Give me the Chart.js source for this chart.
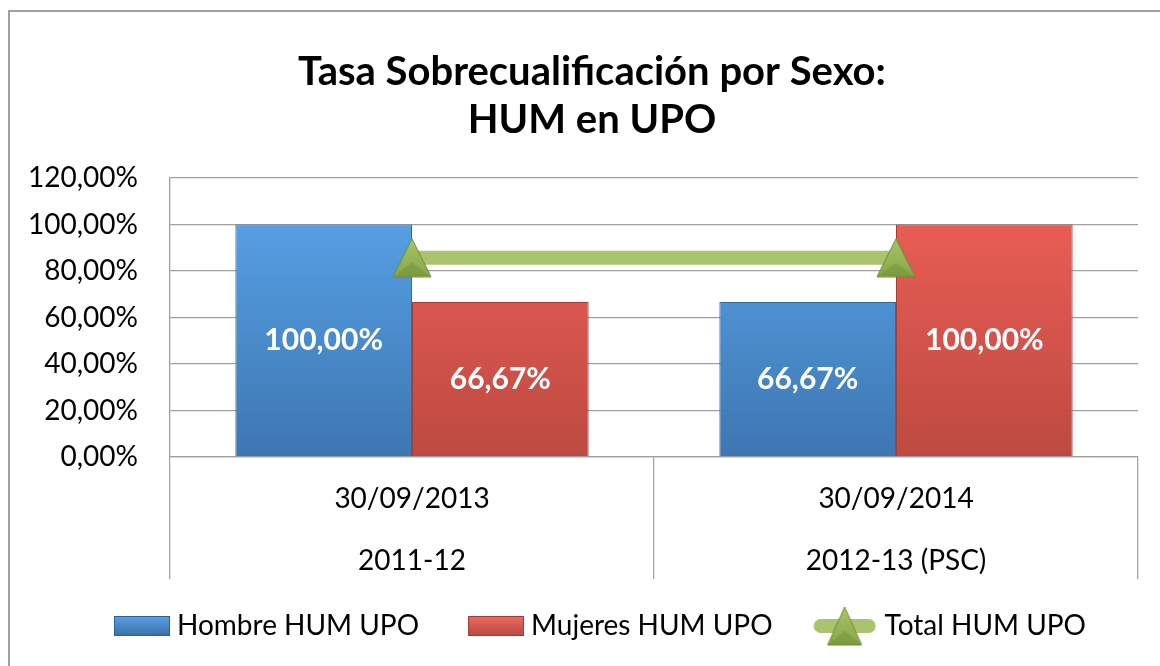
<!DOCTYPE html>
<html>
<head>
<meta charset="utf-8">
<script src="https://cdn.jsdelivr.net/npm/chart.js@4.4.1/dist/chart.umd.min.js"></script>
<style>
  html, body { margin: 0; padding: 0; background: #ffffff; }
  #wrap { position: relative; width: 1160px; height: 666px; }
</style>
</head>
<body>
<div id="wrap"><canvas id="c" width="1160" height="666"></canvas></div>
<script>
// ---- data ----
const dates = ['30/09/2013', '30/09/2014'];
const courses = ['2011-12', '2012-13 (PSC)'];
const hombre = [100, 66.67];
const mujeres = [66.67, 100];
const total = [85.71, 85.71];
const seriesNames = ['Hombre HUM UPO', 'Mujeres HUM UPO', 'Total HUM UPO'];
const titleLines = ['Tasa Sobrecualificación por Sexo:', 'HUM en UPO'];
const yMin = 0, yMax = 120, yStep = 20;

const labels = dates.map((d, i) => [d, courses[i]]);
const FONT = 'Lato, "Open Sans", sans-serif';
const fmt = v => v.toFixed(2).replace('.', ',') + '%';

// ---- marker / legend icons ----
function drawTriangle(g, x, y, w, h) {
  const grd = g.createLinearGradient(0, y, 0, y + h);
  grd.addColorStop(0, '#a9c66a');
  grd.addColorStop(1, '#86a646');
  g.beginPath();
  g.moveTo(x + w / 2, y + 1);
  g.lineTo(x + w - 1, y + h - 1);
  g.lineTo(x + 1, y + h - 1);
  g.closePath();
  g.fillStyle = grd;
  g.fill();
  g.strokeStyle = '#6f8f34';
  g.lineWidth = 1;
  g.stroke();
  g.beginPath();
  g.moveTo(x + w / 2, y + h * 0.62);
  g.lineTo(x + w - 1, y + h - 1);
  g.lineTo(x + 1, y + h - 1);
  g.closePath();
  g.fillStyle = 'rgba(90,120,40,0.25)';
  g.fill();
}
function triangleCanvas(w, h) {
  const c = document.createElement('canvas');
  c.width = w; c.height = h;
  drawTriangle(c.getContext('2d'), 0, 0, w, h);
  return c;
}
const ICON_W = 79, ICON_H = 42;
function rectIcon(top, bottom, border) {
  const c = document.createElement('canvas');
  c.width = ICON_W; c.height = ICON_H;
  const g = c.getContext('2d');
  const x0 = ICON_W - 56, y0 = (ICON_H - 20) / 2;
  const grd = g.createLinearGradient(0, y0, 0, y0 + 20);
  grd.addColorStop(0, top);
  grd.addColorStop(1, bottom);
  g.fillStyle = grd;
  g.fillRect(x0 + 0.5, y0 + 0.5, 55, 19);
  g.strokeStyle = border;
  g.lineWidth = 1;
  g.strokeRect(x0 + 0.5, y0 + 0.5, 55, 19);
  return c;
}
function lineIcon() {
  const c = document.createElement('canvas');
  c.width = ICON_W; c.height = ICON_H;
  const g = c.getContext('2d');
  const x0 = ICON_W - 64;
  g.fillStyle = '#a9c46c';
  g.beginPath();
  g.roundRect(x0, ICON_H / 2 - 7, 62, 14, 7);
  g.fill();
  drawTriangle(g, x0 + 31 - 18, 1, 36, 40);
  return c;
}
const markerImg = triangleCanvas(40, 40);
const legendIcons = {
  1: rectIcon('#5aa2e6', '#3a6fa8', '#2f5f93'),
  2: rectIcon('#ec6b62', '#b9483f', '#9e3b34'),
  0: lineIcon()
};

function vGrad(chart, top, bottom) {
  const a = chart.chartArea;
  if (!a) return top;
  const g = chart.ctx.createLinearGradient(0, a.top + 46, 0, a.bottom);
  g.addColorStop(0, top);
  g.addColorStop(1, bottom);
  return g;
}

// ---- plugins ----
const frame = {
  id: 'frame',
  beforeDraw(chart) {
    const ctx = chart.ctx;
    ctx.save();
    ctx.fillStyle = '#ffffff';
    ctx.fillRect(0, 0, chart.width, chart.height);
    ctx.strokeStyle = '#a0a0a0';
    ctx.lineWidth = 2;
    ctx.beginPath();
    ctx.moveTo(9, chart.height + 5);
    ctx.lineTo(9, 11);
    ctx.lineTo(chart.width + 5, 11);
    ctx.stroke();
    ctx.restore();
  }
};
const barLabels = {
  id: 'barLabels',
  afterDatasetsDraw(chart) {
    const ctx = chart.ctx;
    ctx.save();
    ctx.font = 'bold 30px ' + FONT;
    ctx.fillStyle = '#ffffff';
    ctx.textAlign = 'center';
    ctx.textBaseline = 'middle';
    [1, 2].forEach(di => {
      const meta = chart.getDatasetMeta(di);
      meta.data.forEach((el, i) => {
        const v = chart.data.datasets[di].data[i];
        ctx.fillText(fmt(v), el.x, (el.y + el.base) / 2);
      });
    });
    ctx.restore();
  }
};

const ctx = document.getElementById('c').getContext('2d');
new Chart(ctx, {
  data: {
    labels: labels,
    datasets: [
      {
        type: 'line',
        label: seriesNames[2],
        data: total,
        borderColor: '#a9c46c',
        borderWidth: 14,
        pointStyle: markerImg,
        pointRadius: 20,
        pointHoverRadius: 20,
        fill: false,
        order: 0
      },
      {
        type: 'bar',
        label: seriesNames[0],
        data: hombre,
        backgroundColor: c => vGrad(c.chart, '#559fe2', '#3e76b2'),
        borderColor: '#356a9f',
        borderWidth: 1,
        categoryPercentage: 0.73,
        barPercentage: 1.0,
        order: 1
      },
      {
        type: 'bar',
        label: seriesNames[1],
        data: mujeres,
        backgroundColor: c => vGrad(c.chart, '#e85d54', '#bd4a41'),
        borderColor: '#a13f37',
        borderWidth: 1,
        categoryPercentage: 0.73,
        barPercentage: 1.0,
        order: 1
      }
    ]
  },
  options: {
    responsive: false,
    animation: false,
    layout: { autoPadding: false, padding: { left: 24, right: 0, top: 0, bottom: 16 } },
    scales: {
      x: {
        offset: true,
        grid: {
          offset: true,
          drawOnChartArea: false,
          drawTicks: true,
          tickLength: 122,
          color: '#a6a6a6',
          lineWidth: 1.3
        },
        border: { display: true, color: '#a0a0a0', width: 1.3 },
        ticks: {
          padding: -111,
          color: '#000000',
          font: { family: FONT, size: 28, lineHeight: 2.214 },
          maxRotation: 0,
          autoSkip: false
        },
        afterFit: s => { s.height = 122; s.paddingLeft = 0; s.paddingRight = 22; }
      },
      y: {
        min: yMin,
        max: yMax,
        ticks: {
          stepSize: yStep,
          padding: 32,
          color: '#000000',
          font: { family: FONT, size: 28 },
          callback: v => fmt(v)
        },
        grid: { color: '#a0a0a0', lineWidth: 1.3, drawTicks: false },
        border: { display: true, color: '#a0a0a0', width: 1.3 },
        afterFit: s => { s.width = 146; }
      }
    },
    plugins: {
      title: {
        display: true,
        text: titleLines,
        color: '#000000',
        font: { family: FONT, size: 40, weight: 'bold', lineHeight: 1.2 },
        padding: { top: 48, bottom: 34 }
      },
      legend: {
        position: 'bottom',
        labels: {
          usePointStyle: true,
          pointStyleWidth: 65,
          color: '#000000',
          font: { family: FONT, size: 28 },
          padding: 33,
          sort: (a, b) => [1, 2, 0].indexOf(a.datasetIndex) - [1, 2, 0].indexOf(b.datasetIndex),
          generateLabels(chart) {
            const items = Chart.defaults.plugins.legend.labels.generateLabels(chart);
            items.forEach(it => { it.pointStyle = legendIcons[it.datasetIndex]; });
            return items;
          }
        }
      },
      tooltip: { enabled: false }
    }
  },
  plugins: [frame, barLabels]
});
</script>
</body>
</html>
